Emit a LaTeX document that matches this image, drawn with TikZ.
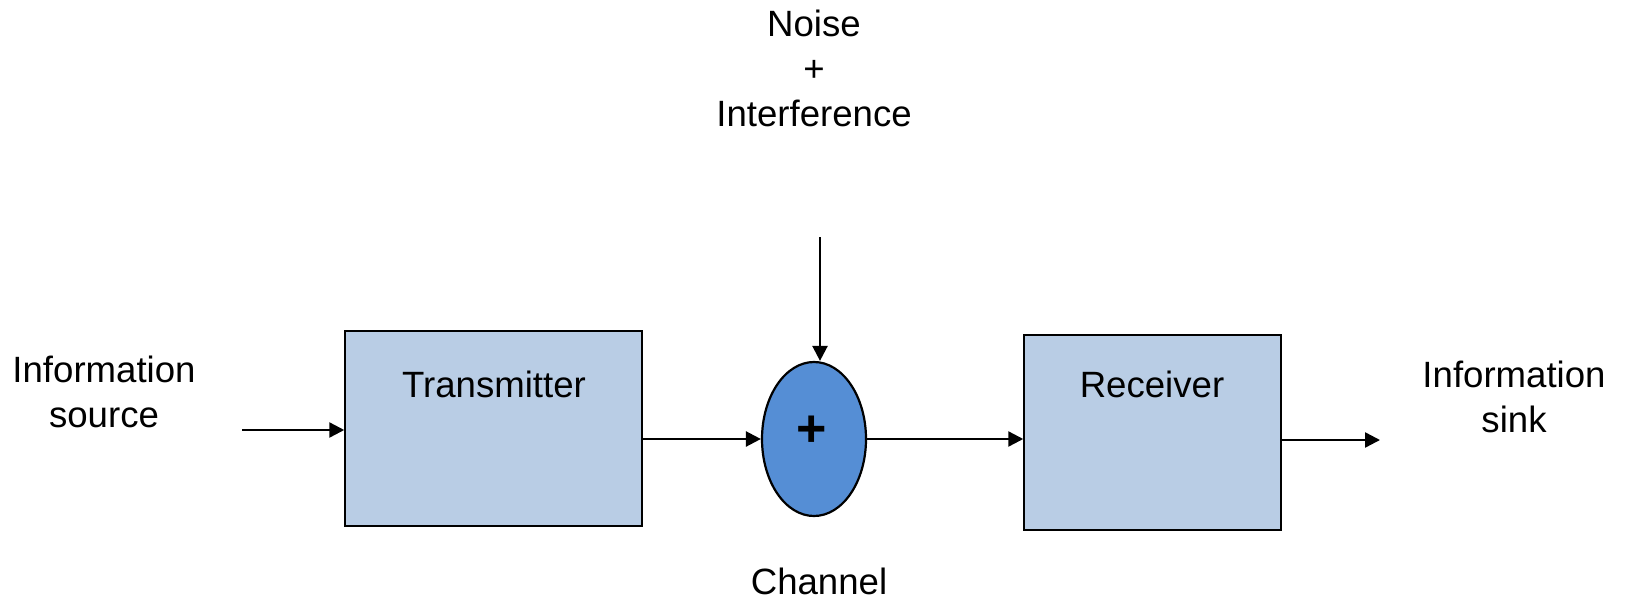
\documentclass[tikz,border=0pt]{standalone}
\usepackage{fontspec}
\setmainfont{Liberation Sans}
\usetikzlibrary{arrows.meta, shapes.geometric}

\definecolor{boxblue}{RGB}{185,205,229}
\definecolor{sumblue}{RGB}{85,142,213}

\tikzset{
    block/.style={draw, fill=boxblue, line width=0.75pt, inner sep=0pt},
    sum/.style={ellipse, draw, fill=sumblue, line width=1.1pt, inner sep=0pt},
    txt/.style={align=center, font=\fontsize{18.3}{22.5}\selectfont},
    flow/.style={-{Triangle[length=7.5pt, width=7.5pt]}, line width=1.2pt}
}

\begin{document}
\begin{tikzpicture}[x=0.5pt, y=-0.5pt]
    \useasboundingbox (0, 0) rectangle (1626, 599);

    \node[block, minimum width=148.5pt, minimum height=97.5pt] (tx) at (493.5, 428.5) {};
    \node[txt] (txlabel) at (494, 384) {Transmitter};

    \node[sum, minimum width=52pt, minimum height=77pt] (ch) at (814, 439) {};
    \node[font=\fontsize{26}{26}\selectfont\bfseries] (chplus) at (812, 431) {+};
    \node[txt] (chlabel) at (819, 581) {Channel};

    \node[block, minimum width=128.5pt, minimum height=97.5pt] (rx) at (1152.5, 432.5) {};
    \node[txt] (rxlabel) at (1152, 384) {Receiver};

    \node[txt] (source) at (104, 392) {Information\\source};
    \node[txt] (sink) at (1514, 397) {Information\\sink};
    \node[txt] (noise) at (814, 68) {Noise\\+\\Interference};

    \coordinate (in) at (242, 430);
    \coordinate (out) at (1380, 440);
    \coordinate (nz) at (820, 237);

    % signal path
    \draw[flow] (in) -- (in -| tx.west);
    \draw[flow] (tx.east |- ch.west) -- (ch.west);
    \draw[flow] (ch.east) -- (ch.east -| rx.west);
    \draw[flow] (rx.east |- out) -- (out);
    % noise into the channel
    \draw[flow] (nz) -- (nz |- ch.north);
\end{tikzpicture}
\end{document}
